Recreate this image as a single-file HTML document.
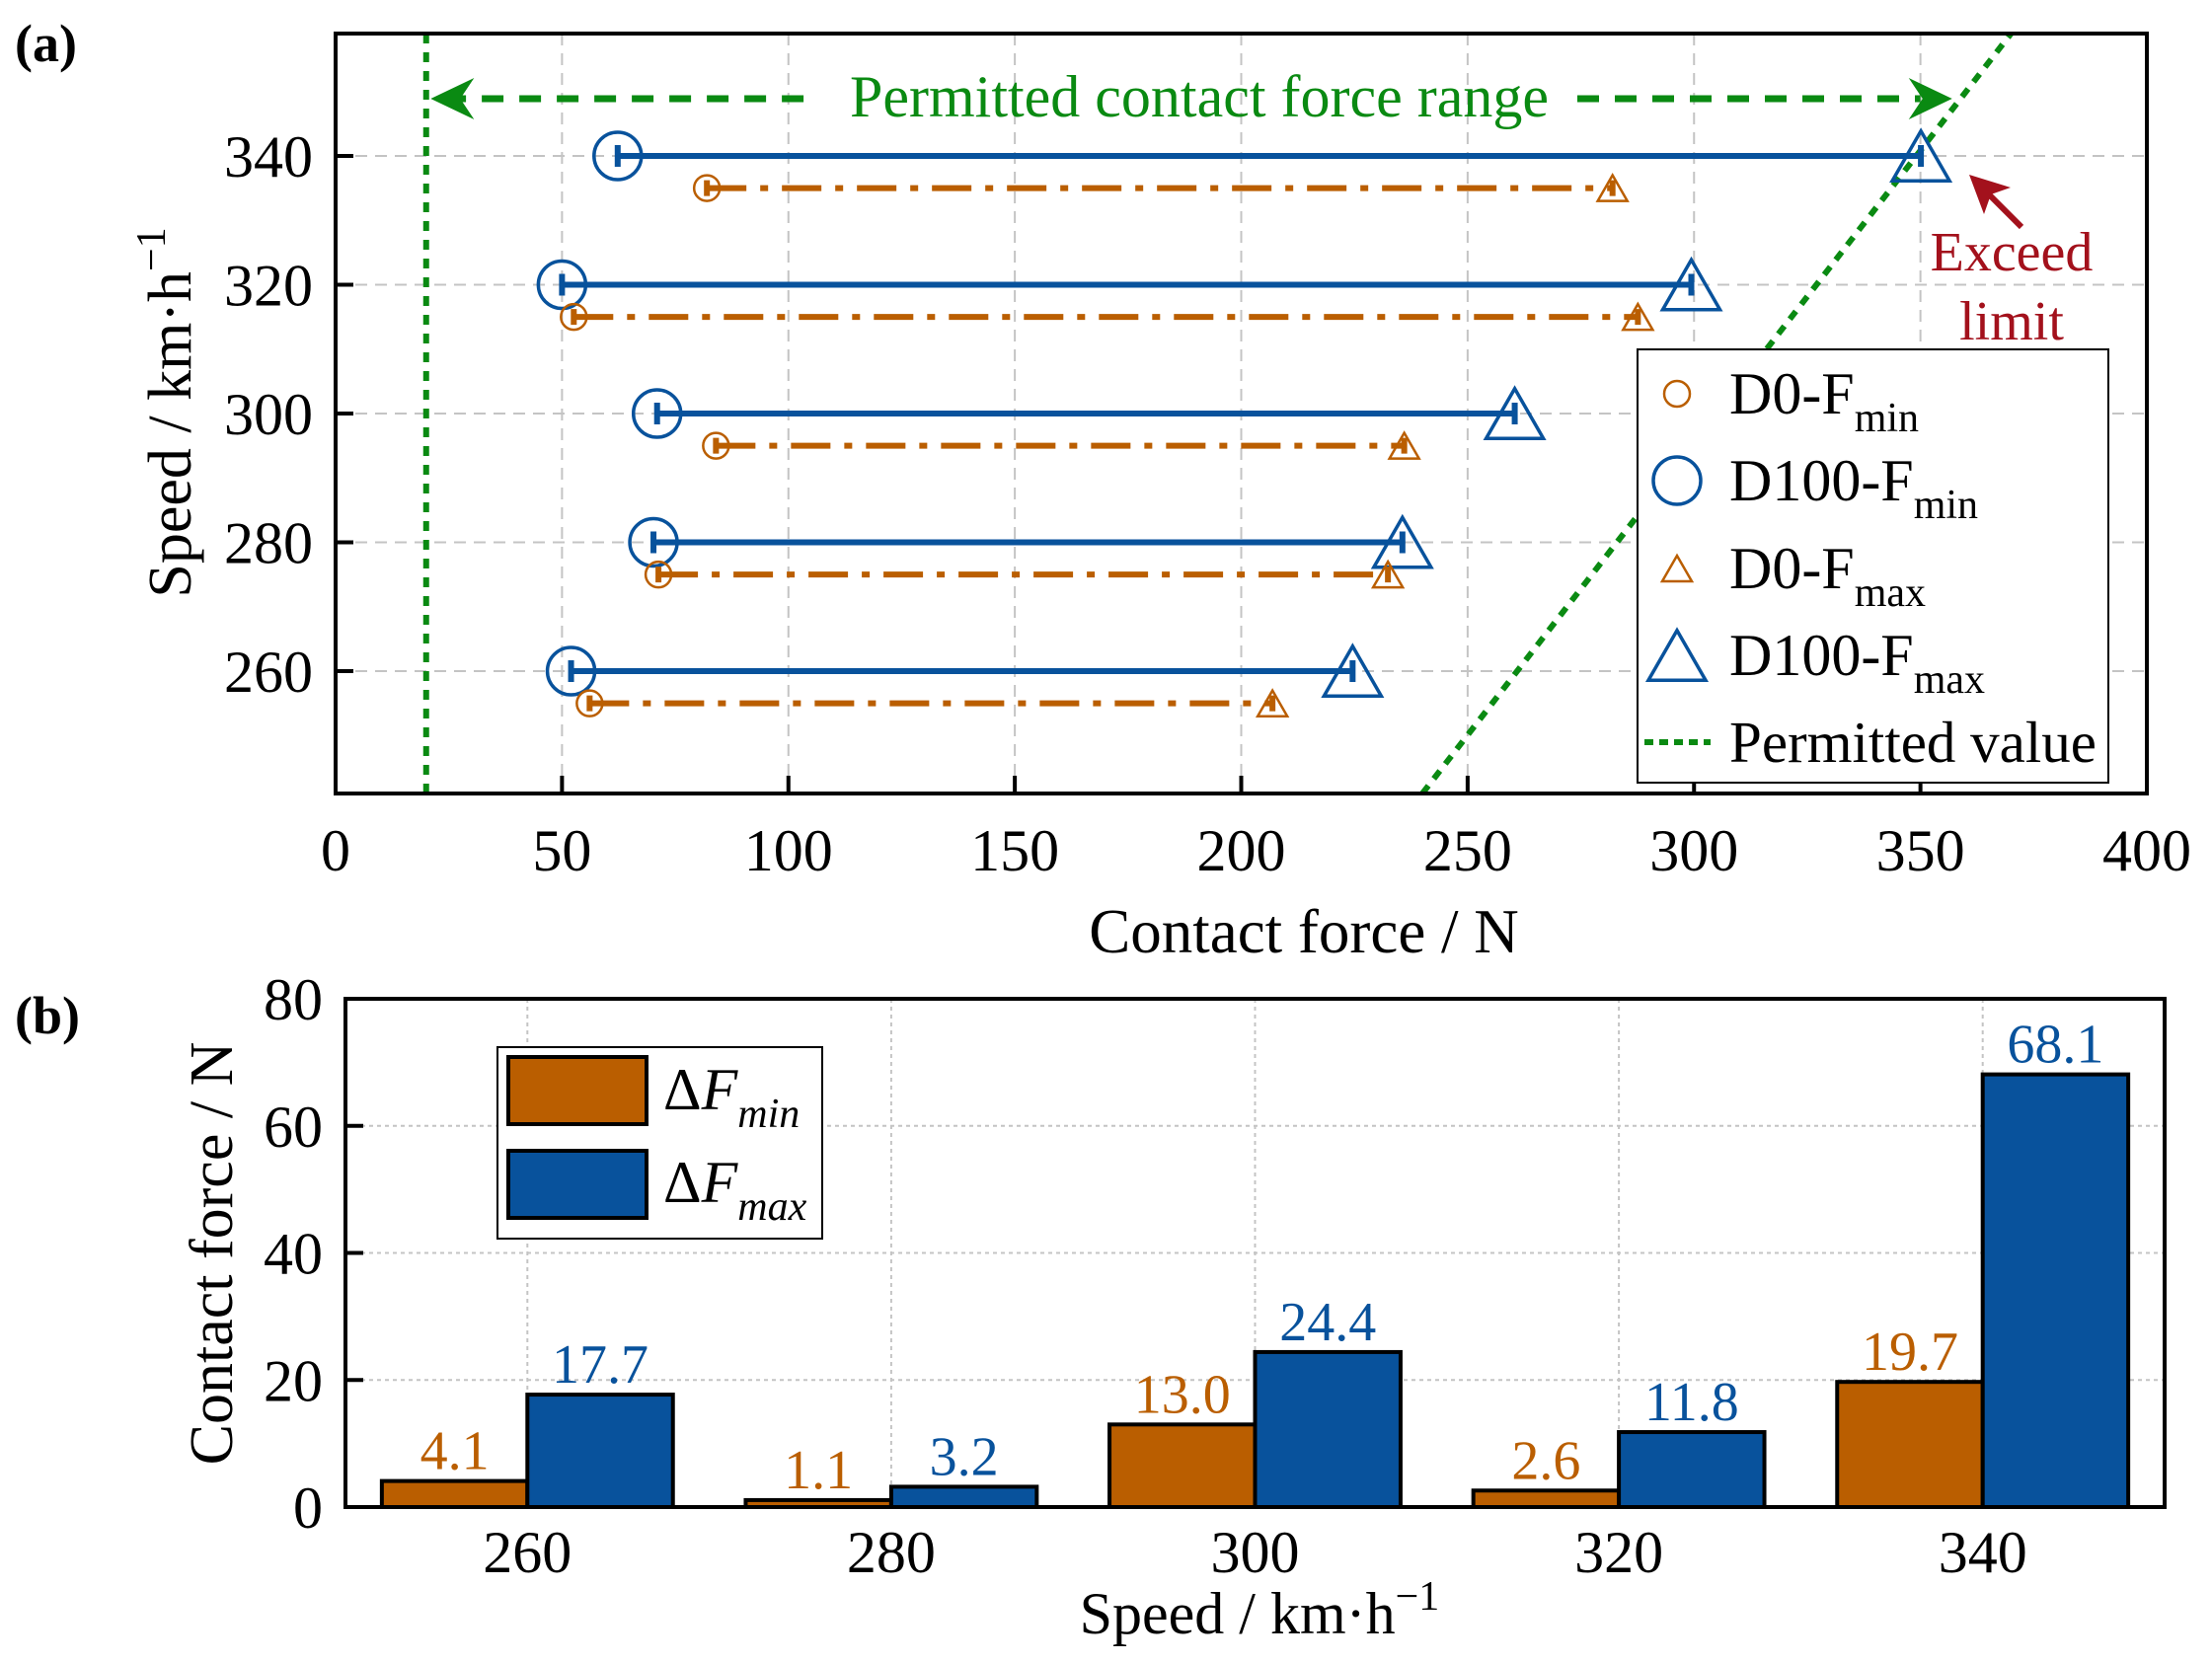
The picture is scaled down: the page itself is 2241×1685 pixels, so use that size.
<!DOCTYPE html>
<html><head><meta charset="utf-8"><style>
html,body{margin:0;padding:0;background:#fff}
svg{display:block;font-family:"Liberation Serif",serif}
</style></head><body>
<svg id="fig" width="2241" height="1685" viewBox="0 0 2241 1685" xmlns="http://www.w3.org/2000/svg"></svg>
<script>
// ---- Panel (a) data ----
const speeds = [260, 280, 300, 320, 340];
const d0Min = [56.1, 71.3, 84.0, 52.6, 82.0];
const d100Min = [52.0, 70.2, 71.0, 50.0, 62.3];
const d0Max = [206.9, 232.4, 236.0, 287.6, 282.0];
const d100Max = [224.6, 235.6, 260.4, 299.4, 350.1];
const d0Offset = [-5, -5, -5, -5, -5];
const xTicksA = [0, 50, 100, 150, 200, 250, 300, 350, 400];
const yTicksA = [260, 280, 300, 320, 340];
const permittedF = [240, 370];
const permittedV = [241, 359];
const permittedMin = [20];
// ---- Panel (b) data ----
const categoriesB = ["260", "280", "300", "320", "340"];
const deltaMin = [4.1, 1.1, 13.0, 2.6, 19.7];
const deltaMax = [17.7, 3.2, 24.4, 11.8, 68.1];
const yTicksB = [0, 20, 40, 60, 80];

const NS = "http://www.w3.org/2000/svg";
const svg = document.getElementById("fig");
const BLUE = "#08529c", ORANGE = "#ba5e00", GREEN = "#0a8a12", RED = "#a3111c";
function mk(tag, attrs, parent) {
  const e = document.createElementNS(NS, tag);
  for (const k in attrs) e.setAttribute(k, attrs[k]);
  (parent || svg).appendChild(e);
  return e;
}
function txt(s, attrs, parent) { const t = mk("text", attrs, parent); t.textContent = s; return t; }

// ---- Panel (a) scales ----
const A = {l: 340, r: 2175, t: 34, b: 804, x0: 0, x1: 400, y0: 241, y1: 359};
const xa = v => A.l + (v - A.x0) / (A.x1 - A.x0) * (A.r - A.l);
const ya = v => A.b - (v - A.y0) / (A.y1 - A.y0) * (A.b - A.t);

const gA = mk("g", {});


const clipA = mk("clipPath", {id: "clipA"});
mk("rect", {x: A.l, y: A.t, width: A.r - A.l, height: A.b - A.t}, clipA);

// grid
xTicksA.forEach(v => { if (v > 0 && v < 400) { const l = mk("line", {x1: xa(v), x2: xa(v), y1: A.t, y2: A.b, stroke: "#c4c4c4", "stroke-width": 2, "stroke-dasharray": "12,8"}, gA);   } });
yTicksA.forEach(v => { const l = mk("line", {x1: A.l, x2: A.r, y1: ya(v), y2: ya(v), stroke: "#c4c4c4", "stroke-width": 2, "stroke-dasharray": "12,8"}, gA);   });

// permitted lines
const pv = mk("line", {x1: xa(permittedMin[0]), x2: xa(permittedMin[0]), y1: A.t, y2: A.b, stroke: GREEN, "stroke-width": 6, "stroke-dasharray": "10,9"}, gA);
 
const ps = mk("line", {x1: xa(permittedF[0]), y1: ya(permittedV[0]), x2: xa(permittedF[1]), y2: ya(permittedV[1]), stroke: GREEN, "stroke-width": 6, "stroke-dasharray": "10,9", "clip-path": "url(#clipA)"}, gA);
 

// range arrow
const ay = 100;
mk("line", {x1: xa(24), x2: 815, y1: ay, y2: ay, stroke: GREEN, "stroke-width": 7, "stroke-dasharray": "22,16"}, gA);
mk("line", {x1: 1598, x2: xa(350), y1: ay, y2: ay, stroke: GREEN, "stroke-width": 7, "stroke-dasharray": "22,16"}, gA);
mk("path", {d: `M${xa(21)},${ay} l44,-21 l-14,21 l14,21 z`, fill: GREEN}, gA);
mk("path", {d: `M${xa(357)},${ay} l-44,-21 l14,21 l-14,21 z`, fill: GREEN}, gA);
const rt = txt("Permitted contact force range", {x: 1215, y: 118, "font-size": 60, fill: GREEN, "text-anchor": "middle"}, gA);
 

// series
function tri(cx, cy, s, color, w, parent) {
  const h = s * 0.87;
  return mk("path", {d: `M${cx},${cy - h / 2} L${cx + s / 2},${cy + h / 2} L${cx - s / 2},${cy + h / 2} Z`, fill: "none", stroke: color, "stroke-width": w}, parent);
}
speeds.forEach((s, i) => {
  const yb = ya(s);
  const lb = mk("line", {x1: xa(d100Min[i]), x2: xa(d100Max[i]), y1: yb, y2: yb, stroke: BLUE, "stroke-width": 6}, gA);
   
  [d100Min[i], d100Max[i]].forEach(v => mk("line", {x1: xa(v), x2: xa(v), y1: yb - 11, y2: yb + 11, stroke: BLUE, "stroke-width": 6}, gA));
  const cb = mk("circle", {cx: xa(d100Min[i]), cy: yb, r: 24, fill: "none", stroke: BLUE, "stroke-width": 3.5}, gA);
   
  const tb = tri(xa(d100Max[i]), yb, 58, BLUE, 3.5, gA);
   
  const yo = ya(s + d0Offset[i]);
  const lo = mk("line", {x1: xa(d0Min[i]), x2: xa(d0Max[i]), y1: yo, y2: yo, stroke: ORANGE, "stroke-width": 6, "stroke-dasharray": "40,14,8,14"}, gA);
   
  [d0Min[i], d0Max[i]].forEach(v => mk("line", {x1: xa(v), x2: xa(v), y1: yo - 8, y2: yo + 8, stroke: ORANGE, "stroke-width": 6}, gA));
  const co = mk("circle", {cx: xa(d0Min[i]), cy: yo, r: 13, fill: "none", stroke: ORANGE, "stroke-width": 2.5}, gA);
   
  const to = tri(xa(d0Max[i]), yo, 30, ORANGE, 2.5, gA);
   
});

// exceed annotation
mk("line", {x1: 2048, y1: 230, x2: 2012, y2: 194, stroke: RED, "stroke-width": 6}, gA);
mk("path", {d: "M1995,177 l42,13 l-20,7 l-7,20 z", fill: RED}, gA);
const ex = txt("Exceed", {x: 2038, y: 274, "font-size": 56, fill: RED, "text-anchor": "middle"}, gA);
 
txt("limit", {x: 2038, y: 344, "font-size": 56, fill: RED, "text-anchor": "middle"}, gA);

// axes frame
const fa = mk("rect", {x: A.l, y: A.t, width: A.r - A.l, height: A.b - A.t, fill: "none", stroke: "#000", "stroke-width": 4}, gA);
 
xTicksA.forEach(v => {
  mk("line", {x1: xa(v), x2: xa(v), y1: A.b, y2: A.b - 18, stroke: "#000", "stroke-width": 4}, gA);
  const t = txt(String(v), {x: xa(v), y: 882, "font-size": 60, "text-anchor": "middle"}, gA);
   
});
yTicksA.forEach(v => {
  mk("line", {x1: A.l, x2: A.l + 18, y1: ya(v), y2: ya(v), stroke: "#000", "stroke-width": 4}, gA);
  const t = txt(String(v), {x: 317, y: ya(v) + 21, "font-size": 60, "text-anchor": "end"}, gA);
   
});
const xt = txt("Contact force / N", {x: 1321, y: 965, "font-size": 63, "text-anchor": "middle"}, gA);
 
const yt = mk("text", {transform: "translate(193,418) rotate(-90)", "font-size": 62, "text-anchor": "middle"}, gA);
 
yt.innerHTML = 'Speed / km·h<tspan dy="-26" font-size="42">−1</tspan>';
const la = txt("(a)", {x: 15, y: 62, "font-size": 54, "font-weight": "bold"});
 

// legend a
const lgA = mk("g", {}, gA);
 
mk("rect", {x: 1659, y: 354, width: 477, height: 439, fill: "#fff", stroke: "#000", "stroke-width": 2}, lgA);
const ly = [399, 487, 576, 664, 752];
mk("circle", {cx: 1699, cy: ly[0], r: 13, fill: "none", stroke: ORANGE, "stroke-width": 2.5}, lgA);
mk("circle", {cx: 1699, cy: ly[1], r: 24, fill: "none", stroke: BLUE, "stroke-width": 3.5}, lgA);
tri(1699, ly[2], 30, ORANGE, 2.5, lgA);
tri(1699, ly[3], 58, BLUE, 3.5, lgA);
mk("line", {x1: 1666, x2: 1733, y1: ly[4], y2: ly[4], stroke: GREEN, "stroke-width": 6, "stroke-dasharray": "9,6"}, lgA);
const lgLabels = [["D0-F", "min"], ["D100-F", "min"], ["D0-F", "max"], ["D100-F", "max"]];
lgLabels.forEach((p, i) => {
  const t = mk("text", {x: 1752, y: ly[i] + 20, "font-size": 60}, lgA);
   
  t.innerHTML = p[0] + '<tspan dy="18" font-size="42">' + p[1] + '</tspan>';
});
const lp = txt("Permitted value", {x: 1752, y: ly[4] + 20, "font-size": 59}, lgA);
 

// ---- Panel (b) ----
const B = {l: 350, r: 2193, t: 1012, b: 1527, y0: 0, y1: 80};
const n = categoriesB.length;
const xb = i => B.l + (i + 0.5) / n * (B.r - B.l);
const yb = v => B.b - (v - B.y0) / (B.y1 - B.y0) * (B.b - B.t);
const bw = (B.r - B.l) / n * 0.4;
const gB = mk("g", {});
 
yTicksB.forEach(v => { if (v > 0 && v < 80) { const l = mk("line", {x1: B.l, x2: B.r, y1: yb(v), y2: yb(v), stroke: "#c4c4c4", "stroke-width": 2, "stroke-dasharray": "4,4"}, gB);   } });
categoriesB.forEach((c, i) => { const l = mk("line", {x1: xb(i), x2: xb(i), y1: B.t, y2: B.b, stroke: "#c4c4c4", "stroke-width": 2, "stroke-dasharray": "4,4"}, gB);   });
categoriesB.forEach((c, i) => {
  const bo = mk("rect", {x: xb(i) - bw, y: yb(deltaMin[i]), width: bw, height: yb(0) - yb(deltaMin[i]), fill: ORANGE, stroke: "#000", "stroke-width": 4}, gB);
   
  const bb = mk("rect", {x: xb(i), y: yb(deltaMax[i]), width: bw, height: yb(0) - yb(deltaMax[i]), fill: BLUE, stroke: "#000", "stroke-width": 4}, gB);
   
  const to = txt(deltaMin[i].toFixed(1), {x: xb(i) - bw / 2, y: yb(deltaMin[i]) - 12, "font-size": 56, fill: ORANGE, "text-anchor": "middle"}, gB);
   
  const tb = txt(deltaMax[i].toFixed(1), {x: xb(i) + bw / 2, y: yb(deltaMax[i]) - 12, "font-size": 56, fill: BLUE, "text-anchor": "middle"}, gB);
   
  const xl = txt(c, {x: xb(i), y: 1593, "font-size": 60, "text-anchor": "middle"}, gB);
   
});
const fb = mk("rect", {x: B.l, y: B.t, width: B.r - B.l, height: B.b - B.t, fill: "none", stroke: "#000", "stroke-width": 4}, gB);
 
yTicksB.forEach(v => {
  mk("line", {x1: B.l, x2: B.l + 18, y1: yb(v), y2: yb(v), stroke: "#000", "stroke-width": 4}, gB);
  const t = txt(String(v), {x: 327, y: yb(v) + 21, "font-size": 60, "text-anchor": "end"}, gB);
   
});
const xtb = mk("text", {x: 1276, y: 1655, "font-size": 60, "text-anchor": "middle"}, gB);
 
xtb.innerHTML = 'Speed / km·h<tspan dy="-24" font-size="42">−1</tspan>';
const ytb = txt("Contact force / N", {transform: "translate(235,1270) rotate(-90)", "font-size": 62, "text-anchor": "middle"}, gB);
 
const lb2 = txt("(b)", {x: 15, y: 1047, "font-size": 54, "font-weight": "bold"});
 

// legend b
const lgB = mk("g", {}, gB);
 
mk("rect", {x: 504, y: 1061, width: 329, height: 194, fill: "#fff", stroke: "#000", "stroke-width": 2}, lgB);
mk("rect", {x: 515, y: 1071, width: 140, height: 68, fill: ORANGE, stroke: "#000", "stroke-width": 4}, lgB);
mk("rect", {x: 515, y: 1166, width: 140, height: 68, fill: BLUE, stroke: "#000", "stroke-width": 4}, lgB);
const e1 = mk("text", {x: 672, y: 1124, "font-size": 60}, lgB);
 
e1.innerHTML = 'Δ<tspan font-style="italic">F</tspan><tspan dy="18" font-size="42" font-style="italic">min</tspan>';
const e2 = mk("text", {x: 672, y: 1218, "font-size": 60}, lgB);
 
e2.innerHTML = 'Δ<tspan font-style="italic">F</tspan><tspan dy="18" font-size="42" font-style="italic">max</tspan>';
</script>
</body></html>
